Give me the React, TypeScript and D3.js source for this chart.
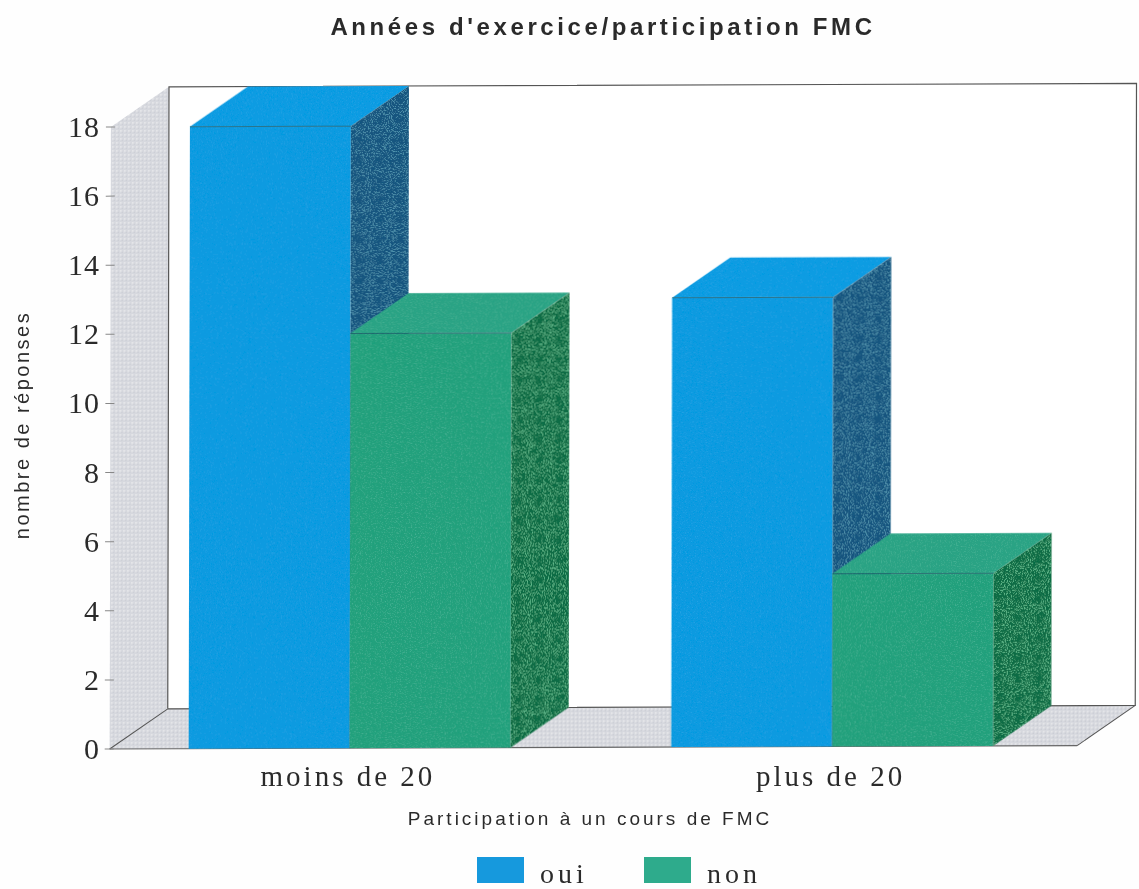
import React from "react";
import * as d3 from "d3";

const titleText = "Années d'exercice/participation FMC";
const yAxisLabel = "nombre de réponses";
const xAxisLabel = "Participation à un cours de FMC";
const categories = ["moins de 20", "plus de 20"];
const seriesNames = ["oui", "non"];
const ouiValues = [18, 13];
const nonValues = [12, 5];
const yTicks = [0, 2, 4, 6, 8, 10, 12, 14, 16, 18];

const colors: Record<string, { front: string; top: string; side: string; speck: string; legend: string }> = {
  oui: { front: "#0f9ae0", top: "#0b9be2", side: "#14557f", speck: "#4f93ad", legend: "#1299dd" },
  non: { front: "#23a07c", top: "#2aa384", side: "#116c45", speck: "#5db98a", legend: "#2dab8c" },
};

const DX = 58;
const DY = -40;
const Y0 = 747;
const Y18 = 125;
const LEFT = 111;
const RIGHT = 1078.5;

const y = d3.scaleLinear().domain([0, 18]).range([Y0, Y18]);
const x0 = d3.scaleBand<string>().domain(categories).range([190, 994.5]).paddingInner(0.333).paddingOuter(0);
const x1 = d3.scaleBand<string>().domain(seriesNames).range([0, x0.bandwidth()]);

const pts = (p: [number, number][]) => p.map((d) => d.join(",")).join(" ");

function Speckle({ id, color, freq, amount }: { id: string; color: string; freq: number; amount: number }) {
  return (
    <filter id={id} x="0" y="0" width="1" height="1">
      <feTurbulence type="fractalNoise" baseFrequency={freq} numOctaves={2} seed={4} result="n" />
      <feColorMatrix
        in="n"
        type="matrix"
        values={`0 0 0 0 0  0 0 0 0 0  0 0 0 0 0  ${amount} 0 0 0 ${-amount * 0.52}`}
        result="a"
      />
      <feFlood floodColor={color} result="c" />
      <feComposite in="c" in2="a" operator="in" result="s" />
      <feComposite in="s" in2="SourceGraphic" operator="in" result="s2" />
      <feMerge>
        <feMergeNode in="SourceGraphic" />
        <feMergeNode in="s2" />
      </feMerge>
    </filter>
  );
}

function Bar({ cat, name, value }: { cat: string; name: string; value: number }) {
  const l = (x0(cat) ?? 0) + (x1(name) ?? 0);
  const r = l + x1.bandwidth();
  const t = y(value);
  const b = y(0);
  const c = colors[name];
  return (
    <g>
      <rect x={l} y={t} width={r - l} height={b - t} fill={c.front} filter={`url(#front-${name})`} />
      <polygon points={pts([[l, t], [l + DX, t + DY], [r + DX, t + DY], [r, t]])} fill={c.top} filter={`url(#front-${name})`} />
      <polygon points={pts([[r, t], [r + DX, t + DY], [r + DX, b + DY], [r, b]])} fill={c.side} filter={`url(#side-${name})`} />
      <line x1={l} x2={r} y1={t} y2={t} stroke="#1d5a66" strokeWidth={1} opacity={0.7} />
    </g>
  );
}

export default function App() {
  const sans = "'Liberation Sans', Arial, sans-serif";
  const serif = "'Liberation Serif', 'Times New Roman', serif";
  const wallX = LEFT + DX;
  const wallR = RIGHT + DX;
  const top = y(18) + DY;
  const floor = Y0 + DY;
  return (
    <svg width={1139} height={889} style={{ position: "absolute", left: 0, top: 0, background: "#fefefe" }}>
      <defs>
        <pattern id="wall" width={4} height={4} patternUnits="userSpaceOnUse">
          <rect width={4} height={4} fill="#d6d8de" />
          <rect width={2} height={2} fill="#e4e5e8" />
          <rect x={2} y={2} width={1} height={1} fill="#c4c7cf" />
        </pattern>
        <filter id="scan" x="-2%" y="-2%" width="104%" height="104%">
          <feGaussianBlur stdDeviation={0.45} />
        </filter>
        <Speckle id="side-oui" color={colors.oui.speck} freq={0.95} amount={6} />
        <Speckle id="side-non" color={colors.non.speck} freq={0.95} amount={6} />
        <Speckle id="front-oui" color="#2aa6e6" freq={0.8} amount={2.5} />
        <Speckle id="front-non" color="#46b294" freq={0.8} amount={3.5} />
      </defs>

      <g filter="url(#scan)">
        <text x={603} y={35} textAnchor="middle" fontFamily={sans} fontWeight="bold" fontSize={24} letterSpacing={3.6} fill="#2c2c2c">
          {titleText}
        </text>

        {/* skew of the scanned page */}
        <g transform={`matrix(1 -0.0035 -0.002 1 0.17 2.4)`}>
          <polygon points={pts([[LEFT, y(18)], [wallX, top], [wallX, floor], [LEFT, Y0]])} fill="url(#wall)" />
          <polygon points={pts([[LEFT, Y0], [wallX, floor], [wallR, floor], [RIGHT, Y0]])} fill="url(#wall)" />
          <polyline points={pts([[wallX, floor], [wallX, top], [wallR, top], [wallR, floor], [wallX, floor]])} fill="#fff" stroke="#555" strokeWidth={1.2} />
          <line x1={wallX} x2={LEFT} y1={floor} y2={Y0} stroke="#555" strokeWidth={1} />
          <line x1={wallR} x2={RIGHT} y1={floor} y2={Y0} stroke="#555" strokeWidth={1} />
          <line x1={LEFT} x2={RIGHT} y1={Y0} y2={Y0} stroke="#666" strokeWidth={1.2} />
          {yTicks.map((t) => (
            <line key={t} x1={LEFT - 5} x2={LEFT + 4} y1={y(t)} y2={y(t)} stroke="#888" strokeWidth={1} />
          ))}
          {categories.map((cat, i) => (
            <g key={cat}>
              <Bar cat={cat} name="oui" value={ouiValues[i]} />
              <Bar cat={cat} name="non" value={nonValues[i]} />
            </g>
          ))}
        </g>

        {yTicks.map((t) => (
          <text key={t} x={100} y={y(t) + 12} textAnchor="end" fontFamily={serif} fontSize={30} letterSpacing={1} fill="#2c2c2c">
            {t}
          </text>
        ))}

        {categories.map((cat) => (
          <text
            key={cat}
            x={(x0(cat) ?? 0) + x0.bandwidth() / 2 - 3}
            y={786}
            textAnchor="middle"
            fontFamily={serif}
            fontSize={29}
            letterSpacing={3}
            fill="#2c2c2c"
          >
            {cat}
          </text>
        ))}

        <text
          transform="translate(29,425) rotate(-90)"
          textAnchor="middle"
          fontFamily={sans}
          fontSize={20}
          letterSpacing={2.5}
          fill="#2c2c2c"
        >
          {yAxisLabel}
        </text>
        <text x={590} y={825} textAnchor="middle" fontFamily={sans} fontSize={19} letterSpacing={3} fill="#2c2c2c">
          {xAxisLabel}
        </text>

        {seriesNames.map((name, i) => (
          <g key={name} transform={`translate(${477 + i * 167},857)`}>
            <rect width={47} height={26} fill={colors[name].legend} />
            <text x={63} y={25.5} fontFamily={serif} fontSize={28} letterSpacing={4} fill="#2c2c2c">
              {name}
            </text>
          </g>
        ))}
      </g>
    </svg>
  );
}
